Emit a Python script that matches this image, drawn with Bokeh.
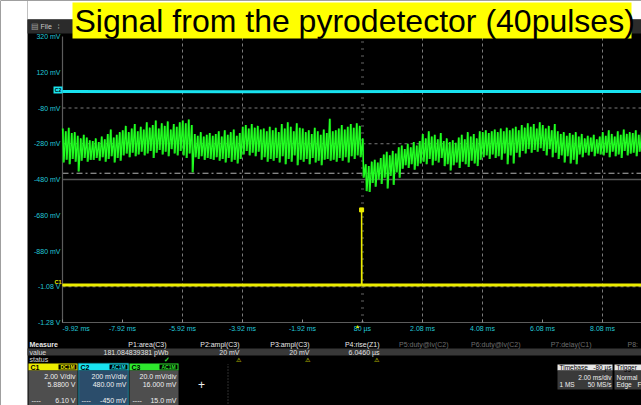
import math

from bokeh.core.properties import field
from bokeh.embed import file_html
from bokeh.models import (BoxAnnotation, ColumnDataSource, Label, LabelSet,
                          Range1d)
from bokeh.plotting import figure
from bokeh.resources import INLINE

# ---------------------------------------------------------------- data
# C3 (pyrodetector, green): upper / lower excursion of the noisy trace,
# one pair per 0.1 ms step starting at -9.92 ms, in mV on the screen scale
C3_START_MS = -9.92
C3_STEP_MS = 0.1
c3_high = [
    -195, -210, -190, -220, -215, -235, -250, -230, -245, -260,
    -265, -250, -270, -240, -255, -225, -200, -245, -230, -215,
    -205, -180, -215, -195, -170, -210, -185, -200, -160, -190,
    -175, -150, -195, -165, -180, -155, -200, -170, -185, -160,
    -150, -165, -145, -175, -225, -235, -215, -240, -230, -220,
    -235, -225, -210, -240, -205, -230, -215, -200, -235, -220,
    -185, -175, -195, -170, -190, -180, -200, -195, -210, -185,
    -205, -190, -215, -170, -195, -160, -185, -210, -165, -190,
    -195, -215, -205, -225, -190, -210, -230, -200, -220, -140,
    -210, -205, -195, -175, -200, -185, -170, -190, -165, -180,
    -250, -395, -405, -380, -370, -385, -360, -340, -325, -345,
    -320, -335, -300, -290, -310, -280, -300, -270, -290, -265,
    -225, -250, -210, -240, -230, -255, -220, -265, -250, -270,
    -260, -275, -245, -230, -255, -215, -240, -225, -250, -210,
    -215, -205, -220, -210, -200, -215, -195, -210, -190, -205,
    -195, -185, -205, -175, -190, -165, -185, -170, -195, -160,
    -175, -195, -180, -205, -170, -210, -225, -215, -235, -220,
    -230, -215, -240, -225, -250, -235, -245, -230, -255, -240,
    -215, -235, -205, -225, -240, -210, -230, -200, -225, -215,
    -220, -205, -230, -215,
]
c3_low = [
    -385, -370, -395, -365, -380, -435, -375, -360, -380, -370,
    -370, -360, -375, -355, -380, -365, -350, -385, -360, -375,
    -345, -335, -355, -330, -350, -340, -325, -345, -335, -320,
    -360, -330, -315, -340, -325, -350, -310, -335, -345, -320,
    -345, -360, -335, -440, -355, -365, -350, -370, -360, -365,
    -370, -355, -375, -365, -385, -360, -380, -370, -390, -365,
    -340, -320, -345, -330, -350, -325, -370, -355, -380, -365,
    -375, -360, -385, -350, -395, -365, -380, -345, -400, -370,
    -380, -365, -395, -360, -385, -375, -400, -370, -365, -375,
    -370, -380, -360, -375, -355, -385, -350, -365, -345, -355,
    -470, -545, -550, -500, -520, -480, -505, -470, -530, -460,
    -510, -440, -470, -420, -400, -415, -395, -425, -405, -390,
    -380, -395, -365, -400, -375, -385, -360, -405, -395, -430,
    -400, -385, -415, -380, -395, -410, -375, -390, -405, -370,
    -355, -345, -365, -340, -360, -350, -370, -335, -395, -345,
    -390, -330, -355, -320, -335, -310, -330, -315, -325, -305,
    -320, -345, -310, -355, -330, -365, -345, -385, -350, -390,
    -370, -395, -340, -355, -330, -345, -325, -350, -335, -340,
    -345, -330, -355, -325, -350, -340, -360, -320, -345, -335,
    -330, -350, -325, -340,
]

# C2 (cyan) reference trace
c2_t = [-9.92, -4.0, 2.0, 9.38]
c2_mv = [12, 11, 12, 12]

# C1 (yellow) laser trigger pulse
c1_t = [-9.92, 0.05, 0.05, 0.06, 9.38]
c1_mv = [-1070, -1070, -650, -1070, -1070]

# axis ticks and labels
y_ticks = [320, 120, -80, -280, -480, -680, -880, -1080, -1280]
y_tick_labels = ["320 mV", "120 mV", "-80 mV", "-280 mV", "-480 mV",
                 "-680 mV", "-880 mV", "-1.08 V", "-1.28 V"]
x_ticks = [-9.92, -7.92, -5.92, -3.92, -1.92, 0.08, 2.08, 4.08, 6.08, 8.08]
x_tick_labels = ["-9.92 ms", "-7.92 ms", "-5.92 ms", "-3.92 ms", "-1.92 ms",
                 "80 µs", "2.08 ms", "4.08 ms", "6.08 ms", "8.08 ms"]

# graticule / cursor levels
grid_h_mv = [-80, -280, -1080]
grid_v_ms = [-5.92, -3.92, 2.08, 4.08, 8.08]
center_mv = -480
center_ms = 0.08
trigger_level_mv = -445

# ---------------------------------------------------------------- layout
W, H = 641, 405
FL, FT, FB = 62, 36, 322          # plot area: left / top / bottom pixel
T_MIN, T_MAX = -9.92, 9.38        # visible time window (ms)
V_MIN, V_MAX = -1280, 320         # visible voltage window (mV)
ms_per_px = (T_MAX - T_MIN) / (W - FL)
mv_per_px = (V_MAX - V_MIN) / (FB - FT)

CYAN_TXT = "#22c8d8"
CYAN = "#19e3f0"
GREEN = "#22ff22"
GREEN_DIM = "#10b010"
YELLOW = "#ecec00"
FONT = "Liberation Sans"

# the frame covers the whole page; the scope area is placed by its ranges
p = figure(width=W, height=H, output_backend="svg", toolbar_location=None,
           x_axis_type=None, y_axis_type=None,
           x_range=Range1d(T_MIN - FL * ms_per_px, T_MAX),
           y_range=Range1d(V_MIN - (H - FB) * mv_per_px, V_MAX + FT * mv_per_px),
           min_border=0, background_fill_color="black",
           border_fill_color="black", outline_line_color=None)
p.grid.visible = False

# graticule
nh, nv = len(grid_h_mv), len(grid_v_ms)
p.segment([T_MIN] * nh, grid_h_mv, [T_MAX] * nh, grid_h_mv,
          line_color="#7a7a7a", line_dash="3 3", line_width=1)
p.segment(grid_v_ms, [V_MIN] * nv, grid_v_ms, [V_MAX] * nv,
          line_color="#7a7a7a", line_dash="3 3", line_width=1)
p.segment([T_MIN], [center_mv], [T_MAX], [center_mv],
          line_color="#555555", line_width=1.5)
p.segment([center_ms], [V_MIN], [center_ms], [V_MAX],
          line_color="#666666", line_dash="1 6", line_width=3)
p.segment([T_MIN], [trigger_level_mv], [T_MAX], [trigger_level_mv],
          line_color="#b4b4b4", line_dash="6 3 2 3", line_width=1)

# axis frame lines and time ticks
p.segment([T_MIN, T_MIN], [V_MIN, V_MIN], [T_MIN, T_MAX], [V_MAX, V_MIN],
          line_color="#5c5c5c", line_width=1.2)
p.segment(x_ticks, [V_MIN] * len(x_ticks), x_ticks,
          [V_MIN + 3 * mv_per_px] * len(x_ticks), line_color="#8a8a8a")

# traces: C3 envelope strokes underneath, then the sample path on top
c3_t, c3_v, bar_t = [], [], []
for k, (hi, lo) in enumerate(zip(c3_high, c3_low)):
    t = C3_START_MS + k * C3_STEP_MS
    bar_t.append(t + C3_STEP_MS / 4)
    c3_t += [t, t + C3_STEP_MS / 2]
    c3_v += [hi, lo]
p.segment(bar_t, c3_high, bar_t, c3_low, line_color=GREEN_DIM, line_width=1.6)
p.line(c3_t, c3_v, line_color=GREEN, line_width=1.3)

p.line(c2_t, c2_mv, line_color=CYAN, line_width=3)

c1_base = [v if v <= min(c1_mv) else math.nan for v in c1_mv]
p.line(c1_t, c1_mv, line_color=YELLOW, line_width=1.5)
p.line(c1_t, c1_base, line_color=YELLOW, line_width=3)
peak = c1_mv.index(max(c1_mv))
p.scatter([c1_t[peak]], [c1_mv[peak]], marker="square", size=4,
          fill_color=YELLOW, line_color=YELLOW)

# axis labels
p.add_layout(LabelSet(
    x=FL - 2, x_units="screen", y="y", text="text",
    source=ColumnDataSource(dict(y=y_ticks, text=y_tick_labels)),
    text_align="right", text_baseline="middle",
    text_color=CYAN_TXT, text_font_size="7px"))
p.add_layout(LabelSet(
    x="x", y=H - 328, y_units="screen", text="text",
    source=ColumnDataSource(dict(
        x=x_ticks, text=x_tick_labels,
        align=["left"] + ["center"] * (len(x_ticks) - 1))),
    text_align=field("align"), text_baseline="middle",
    text_color=CYAN_TXT, text_font_size="7px"))


# ---------------------------------------------------------------- screen furniture
def sy(y):
    return H - y


def rect(x0, y0, x1, y1, fill, line=None, dash="solid", lw=1):
    p.add_layout(BoxAnnotation(
        left=x0, right=x1, top=sy(y0), bottom=sy(y1),
        left_units="screen", right_units="screen",
        top_units="screen", bottom_units="screen",
        fill_color=fill, fill_alpha=1.0 if fill else 0.0,
        line_color=line, line_dash=dash, line_width=lw))


def txt(x, y, s, color="#dcdcdc", size=7, align="left", bold=False,
        baseline="middle", font=FONT):
    p.add_layout(Label(
        x=x, y=sy(y), x_units="screen", y_units="screen", text=s,
        text_color=color, text_font_size=f"{size}px", text_font=font,
        text_align=align, text_baseline=baseline,
        text_font_style="bold" if bold else "normal"))


# page margins outside the scope screen
rect(0, 0, 27, H, "white")
rect(27, 0, W, 19, "white")

# menu strip
rect(27, 19, W, 33, "#2b2b2b")
txt(30, 26, "▤", "#a0a0a0", 8)
txt(40, 26, "File", "#c8c8c8", 7)
txt(57, 26, "⁞", "#a0a0a0", 8)

# title
rect(72, 2, 631, 38, "#ffff00")
txt(74, 20, "Signal from the pyrodetector (40pulses)", "black", 32)

# channel markers at the left edge
rect(53, 86, 62, 93, CYAN)
txt(57.5, 89.5, "C2", "black", 5, align="center", bold=True)
txt(57.5, 281, "C1", YELLOW, 5.5, align="center", bold=True)
txt(357, 325, "▲", YELLOW, 5, align="center")

# measurement table
rect(27, 348, W, 355, "#383838")
txt(29, 344, "Measure", "#e8e8e8", 7, bold=True)
txt(29, 352, "value", "#d8d8d8", 7)
txt(29, 359, "status", "#d8d8d8", 7)
for right, name, col in [(166, "P1:area(C3)", "#e8e8e8"), (239, "P2:ampl(C3)", "#e8e8e8"),
                         (309, "P3:ampl(C3)", "#e8e8e8"), (379, "P4:rise(Z1)", "#e8e8e8"),
                         (448, "P5:duty@lv(C2)", "#6e6e6e"), (520, "P6:duty@lv(C2)", "#6e6e6e"),
                         (591, "P7:delay(C1)", "#6e6e6e")]:
    txt(right, 344, name, col, 7, align="right")
txt(627, 344, "P8:", "#6e6e6e", 7)
for right, val in [(168, "181.084839381 pWb"), (239, "20 mV"), (309, "20 mV"),
                   (379, "6.0460 µs")]:
    txt(right, 352, val, "#e0e0e0", 7, align="right")
txt(166, 359, "✓", "#3ad83a", 7, align="center", bold=True)
for x in (238, 307, 376):
    txt(x, 359, "⚠", YELLOW, 6, align="center")


# channel descriptor boxes
def channel_box(x0, x1, name, coupling, head, body, lines, border=None):
    rect(x0, 363, x1, 370, head)
    rect(x0, 370, x1, H, body)
    txt(x0 + 2, 366.5, name, "black", 7, bold=True)
    rect(x1 - 19, 364, x1 - 1, 369, "black")
    txt(x1 - 10, 366.5, coupling, head, 5, align="center", bold=True)
    txt(x1 - 2, 376, lines[0], "#f0f0f0", 7, align="right")
    txt(x1 - 2, 384, lines[1], "#f0f0f0", 7, align="right")
    txt(x0 + 3, 400, "----", "#f0f0f0", 7)
    txt(x1 - 2, 400, lines[2], "#f0f0f0", 7, align="right")
    if border:
        rect(x0, 363, x1, H, None, line=border, lw=1.5)


channel_box(28, 77, "C1", "DC1M", YELLOW, "#4e4e4e",
            ["2.00 V/div", "5.8800 V", "6.10 V"])
channel_box(78, 128, "C2", "AC1M", CYAN, "#2b4d6b",
            ["200 mV/div", "480.00 mV", "-450 mV"], border=CYAN)
channel_box(129, 178, "C3", "AC1M", "#2ee82e", "#4e4e4e",
            ["20.0 mV/div", "16.000 mV", "15.0 mV"])
rect(227, 364, 228, H, None, line="#9a9a9a", dash="1 2")
txt(201, 384, "+", "#f0f0f0", 12, align="center")

# timebase / trigger boxes
rect(557, 364, 612, 370, "#e6e6e6")
rect(557, 370, 612, 389, "#3a3a3a")
txt(559, 367, "Timebase", "black", 6.5)
txt(611, 367, "-80 µs", "black", 6.5, align="right")
txt(611, 377, "2.00 ms/div", "#f0f0f0", 6.5, align="right")
txt(559, 384, "1 MS", "#f0f0f0", 6.5)
txt(611, 384, "50 MS/s", "#f0f0f0", 6.5, align="right")
rect(614, 364, W, 370, "#e6e6e6")
rect(614, 370, W, 389, "#3a3a3a")
txt(616, 367, "Trigger", "black", 6.5)
txt(616, 377, "Normal", "#f0f0f0", 6.5)
txt(616, 384, "Edge", "#f0f0f0", 6.5)
txt(637, 384, "F", "#f0f0f0", 6.5)

open("out.html", "w").write(file_html(p, INLINE))
